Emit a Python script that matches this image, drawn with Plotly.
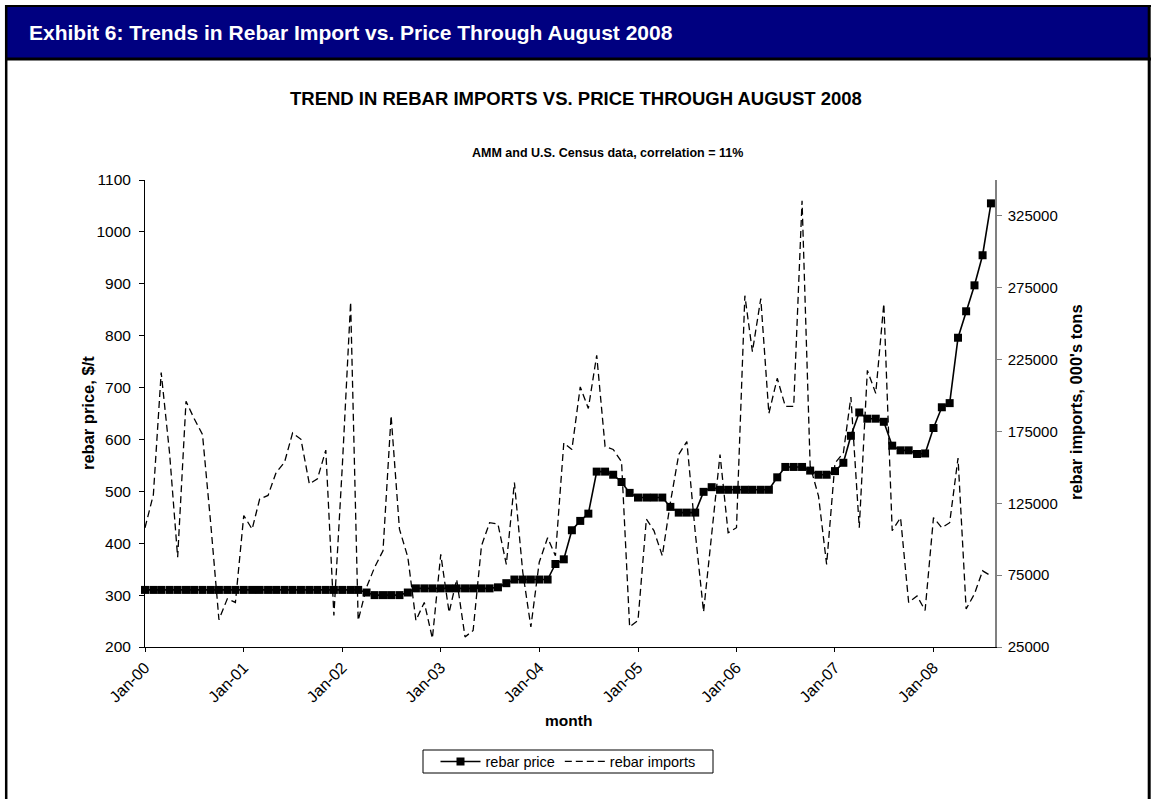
import plotly.graph_objects as go
import pandas as pd

# ---------------- data ----------------
months = pd.date_range("2000-01-01", "2008-08-01", freq="MS")

rebar_price = [
    310, 310, 310, 310, 310, 310, 310, 310, 310, 310, 310, 310,   # 2000
    310, 310, 310, 310, 310, 310, 310, 310, 310, 310, 310, 310,   # 2001
    310, 310, 310, 305, 300, 300, 300, 300, 305, 313, 313, 313,   # 2002
    313, 313, 313, 313, 313, 313, 313, 315, 323, 330, 330, 330,   # 2003
    330, 330, 360, 369, 425, 443, 457, 538, 538, 532, 518, 497,   # 2004
    488, 488, 488, 488, 470, 459, 459, 459, 499, 508, 503, 503,   # 2005
    503, 503, 503, 503, 503, 527, 547, 547, 547, 540, 532, 532,   # 2006
    539, 555, 607, 652, 640, 640, 634, 588, 579, 579, 572, 573,   # 2007
    622, 662, 670, 796, 847, 897, 955, 1055,                      # 2008
]

rebar_imports = [
    108000, 131000, 216000, 160000, 87500, 196000, 184000, 173000, 110000, 44000, 58500, 56000,
    116500, 107000, 128000, 130500, 146500, 153500, 174000, 169500, 138500, 142000, 162000, 47000,
    150000, 265000, 43500, 66500, 80500, 92000, 186000, 107000, 87500, 43500, 56000, 31000,
    89500, 49000, 72000, 32000, 36500, 95500, 111500, 110500, 82500, 139500, 77000, 39000,
    84000, 101000, 88500, 167000, 162500, 206000, 191000, 228000, 164500, 162500, 154000, 39000,
    43500, 114000, 106000, 88500, 125500, 159000, 168000, 105000, 49500, 105000, 159000, 104500,
    108000, 269500, 230500, 267500, 187500, 212000, 192500, 192500, 335500, 151000, 130000, 82500,
    153000, 160000, 199000, 108000, 217500, 201500, 264000, 106000, 115000, 56000, 60500, 50500,
    115000, 108000, 111500, 156500, 51500, 62000, 78000, 74500,
]

x_tick_dates = ["2000-01-01", "2001-01-01", "2002-01-01", "2003-01-01", "2004-01-01",
                "2005-01-01", "2006-01-01", "2007-01-01", "2008-01-01"]
x_tick_labels = ["Jan-00", "Jan-01", "Jan-02", "Jan-03", "Jan-04",
                 "Jan-05", "Jan-06", "Jan-07", "Jan-08"]
price_ticks = [200, 300, 400, 500, 600, 700, 800, 900, 1000, 1100]
import_ticks = [25000, 75000, 125000, 175000, 225000, 275000, 325000]

# ---------------- layout helpers ----------------
W, H = 1156, 799
L, R, T, B = 145, 995, 180, 647


def fx(px):
    return (px - L) / (R - L)


def fy(py):
    return (B - py) / (B - T)


FONT = "Liberation Sans, Arial, Helvetica, sans-serif"

fig = go.Figure()
fig.add_trace(go.Scatter(
    x=months, y=rebar_price, name="rebar price", mode="lines+markers",
    line=dict(color="black", width=1.6),
    marker=dict(symbol="square", size=8, color="black"),
    cliponaxis=False,
))
fig.add_trace(go.Scatter(
    x=months, y=rebar_imports, name="rebar imports", mode="lines", yaxis="y2",
    line=dict(color="black", width=1.3, dash="7px,4px"),
))

shapes = [
    dict(type="rect", xref="paper", yref="paper", x0=fx(6), x1=fx(1149), y0=fy(58), y1=fy(6),
         fillcolor="#000080", line=dict(width=0)),
    dict(type="line", xref="paper", yref="paper", x0=fx(5), x1=fx(1151), y0=fy(6), y1=fy(6),
         line=dict(color="black", width=2)),
    dict(type="line", xref="paper", yref="paper", x0=fx(5), x1=fx(1151), y0=fy(59), y1=fy(59),
         line=dict(color="black", width=3)),
    dict(type="line", xref="paper", yref="paper", x0=fx(6.2), x1=fx(6.2), y0=fy(5), y1=fy(805),
         line=dict(color="black", width=2.5)),
    dict(type="line", xref="paper", yref="paper", x0=fx(1149.2), x1=fx(1149.2), y0=fy(5), y1=fy(805),
         line=dict(color="black", width=3)),
    # legend frame
    dict(type="rect", xref="paper", yref="paper", x0=fx(423), x1=fx(713), y0=fy(773), y1=fy(750),
         fillcolor="rgba(0,0,0,0)", line=dict(color="black", width=1)),
]

annotations = [
    dict(text="<b>Exhibit 6: Trends in Rebar Import vs. Price Through August 2008</b>",
         x=fx(27), y=fy(32), xref="paper", yref="paper", xanchor="left", yanchor="middle",
         showarrow=False,
         font=dict(family="Liberation Sans Narrow, Arial Narrow, Liberation Sans, sans-serif",
                   size=21, color="white")),
    dict(text="<b>TREND IN REBAR IMPORTS VS. PRICE THROUGH AUGUST 2008</b>",
         x=fx(576), y=fy(98), xref="paper", yref="paper", xanchor="center", yanchor="middle",
         showarrow=False, font=dict(family=FONT, size=18.5, color="black")),
    dict(text="<b>AMM and U.S. Census data, correlation = 11%</b>",
         x=fx(607), y=fy(153), xref="paper", yref="paper", xanchor="center", yanchor="middle",
         showarrow=False, font=dict(family=FONT, size=12.5, color="black")),
    dict(text="<b>rebar price, $/t</b>", textangle=-90,
         x=fx(88), y=fy(413), xref="paper", yref="paper", xanchor="center", yanchor="middle",
         showarrow=False, font=dict(family=FONT, size=16.5, color="black")),
    dict(text="<b>rebar imports, 000's tons</b>", textangle=-90,
         x=fx(1076), y=fy(402), xref="paper", yref="paper", xanchor="center", yanchor="middle",
         showarrow=False, font=dict(family=FONT, size=16.5, color="black")),
    dict(text="<b>month</b>",
         x=fx(568), y=fy(720), xref="paper", yref="paper", xanchor="center", yanchor="middle",
         showarrow=False, font=dict(family=FONT, size=15.5, color="black")),
]

fig.update_layout(
    width=W, height=H, autosize=False,
    margin=dict(l=L, r=W - R, t=T, b=H - B, pad=0),
    paper_bgcolor="white", plot_bgcolor="white",
    font=dict(family=FONT, size=15, color="black"),
    shapes=shapes, annotations=annotations,
    showlegend=True,
    legend=dict(orientation="h", x=fx(568), y=fy(761.5), xanchor="center", yanchor="middle",
                borderwidth=0, bgcolor="rgba(0,0,0,0)",
                font=dict(family=FONT, size=14.5, color="black"),
                itemwidth=40, traceorder="normal"),
    xaxis=dict(type="date", range=["2000-01-01", "2008-08-16"],
               tickvals=x_tick_dates, ticktext=x_tick_labels, tickangle=-45,
               ticks="outside", ticklen=4, tickcolor="black",
               showline=True, linecolor="black", linewidth=1,
               showgrid=False, zeroline=False,
               tickfont=dict(family=FONT, size=16, color="black")),
    yaxis=dict(range=[200, 1100], tickvals=price_ticks,
               ticks="outside", ticklen=5, tickcolor="black", ticklabelstandoff=5,
               showline=True, linecolor="black", linewidth=1,
               showgrid=False, zeroline=False,
               tickfont=dict(family=FONT, size=15.5, color="black")),
    yaxis2=dict(range=[25000, 350000], tickvals=import_ticks, tickformat="d",
                overlaying="y", side="right",
                ticks="outside", ticklen=5, tickcolor="#808080", ticklabelstandoff=3,
                showline=True, linecolor="#808080", linewidth=1.5,
                showgrid=False, zeroline=False,
                tickfont=dict(family=FONT, size=15, color="black")),
)

fig.write_html("out.html", config={"displayModeBar": False},
               post_script="document.body.style.margin='0';")
